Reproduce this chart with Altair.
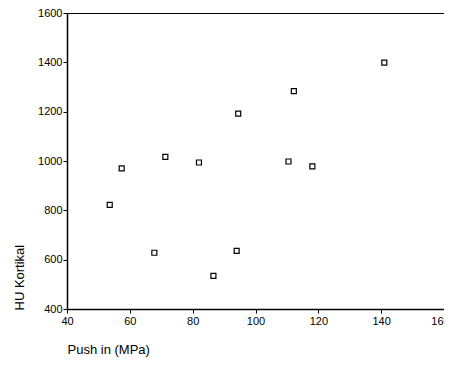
import altair as alt
import pandas as pd

push_in = [53.6, 57.4, 67.8, 71.3, 82.0, 86.6, 94.0, 94.5, 110.5, 112.2, 118.1, 141.0]
hu_kortikal = [822, 970, 628, 1017, 994, 534, 636, 1192, 998, 1283, 978, 1399]

df = pd.DataFrame({"push": push_in, "hu": hu_kortikal})

font = "Liberation Sans"

chart = alt.Chart(df).mark_point(
    shape="square", filled=False, color="black", size=25, strokeWidth=1.2, opacity=1
).encode(
    x=alt.X("push:Q", scale=alt.Scale(domain=[40, 160], nice=False, zero=False),
            axis=alt.Axis(values=[40, 60, 80, 100, 120, 140, 160], title="Push in (MPa)",
                          format="d",
                          labelOffset={"expr": "datum.value == 160 ? -4 : 0"},
                          titleX=0, titleY=44, titleAlign="left", titleAnchor="start",
                          titleBaseline="alphabetic", labelPadding=2)),
    y=alt.Y("hu:Q", scale=alt.Scale(domain=[400, 1600], nice=False, zero=False),
            axis=alt.Axis(values=[400, 600, 800, 1000, 1200, 1400, 1600], title="HU Kortikal",
                          format="d",
                          titleX=-48, titleY=297, titleAlign="left", titleAnchor="start",
                          titleAngle=270, titleBaseline="middle", labelPadding=1)),
).properties(
    width=377, height=296, autosize="none",
    padding={"left": 59, "top": 5, "right": 0, "bottom": 50}
).configure_view(
    stroke="black", strokeWidth=1
).configure_axis(
    grid=False, domainColor="black", domainWidth=1.5, tickColor="black", tickSize=4,
    labelColor="black", labelFont=font, labelFontSize=11, titleFont=font,
    titleFontSize=13, titleFontWeight="normal", titleColor="black", labelFlush=False,
    labelOverlap=False
)

chart.save("out.html", embed_options={"renderer": "svg", "actions": False})
